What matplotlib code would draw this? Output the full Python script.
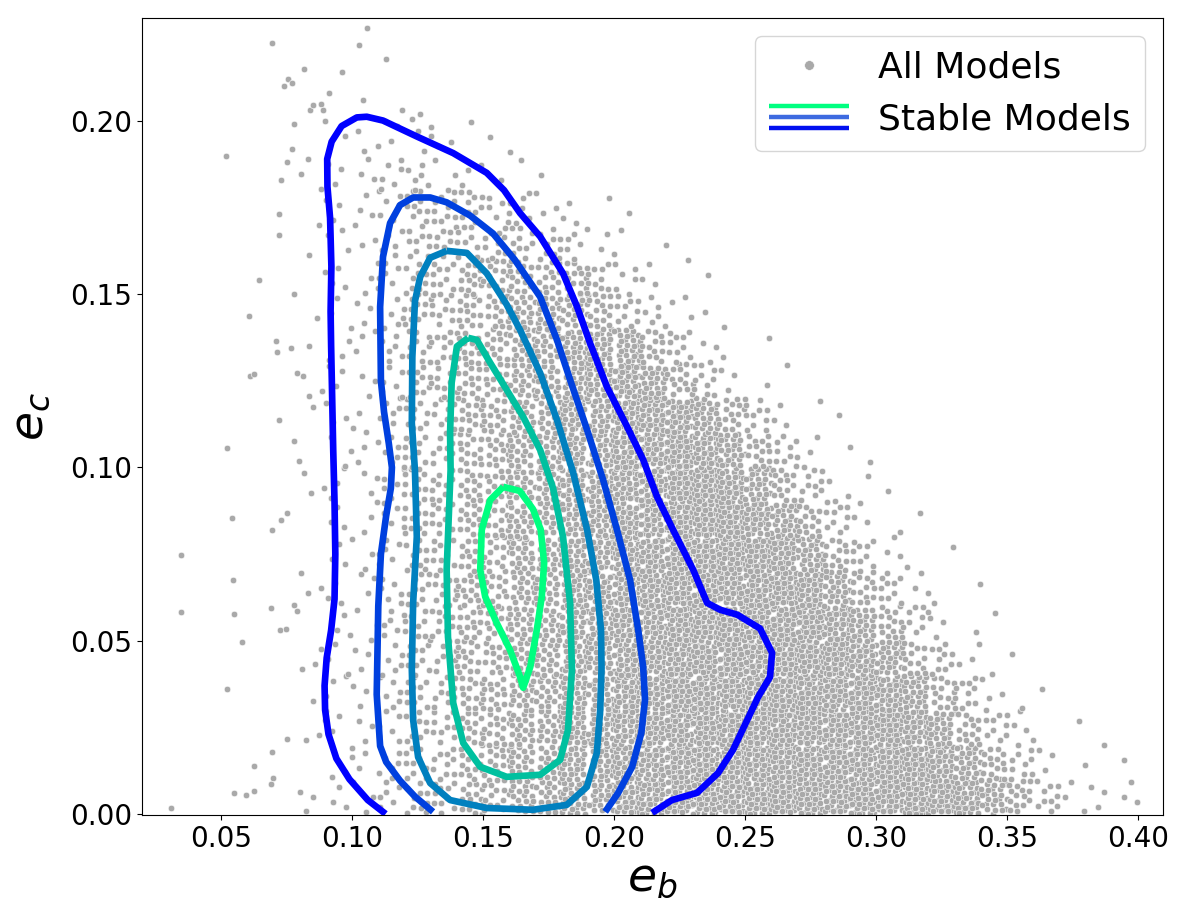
import numpy as np
import matplotlib
matplotlib.use("Agg")
import matplotlib.pyplot as plt
from matplotlib.legend_handler import HandlerBase
from matplotlib.lines import Line2D

# --- all models: density of models per 0.01 x 0.01 cell ---
# one digit per cell (level), columns e_b = 0.08 ... 0.39, rows from e_c = 0.19 (top) down to 0.00,
# trailing empty cells left out
eb_edges = np.round(np.arange(0.08, 0.4001, 0.01), 3)
ec_edges = np.round(np.arange(0.0, 0.2001, 0.01), 3)
density_rows = [
    "112222111",
    "2223322111",
    "1223444332211",
    "12234444443211",
    "1223445555543211",
    "12234455666543211",
    "122344556677754211",
    "2223445566778754211",
    "122344556677888754211",
    "0223445566778898754211",
    "22234455667788998754211",
    "022344556677889998754211",
    "0223445566778899998754211",
    "22234455667788999998754211",
    "022344556677889999998754211",
    "2223445566778899999998754211",
    "12234455667788999999998754211",
    "222344556677889999999998754211",
    "02234455667788999999999987542111",
    "22234455667788999999999998754222",
]
level_counts = [0, 1, 3, 6, 10, 15, 21, 28, 36, 44]

# single models outside the grid (left side and above e_c = 0.20)
sparse_eb = [0.0310, 0.0347, 0.0347, 0.0520, 0.0523, 0.0540, 0.0545, 0.0550, 0.0580, 0.0523,
             0.0550, 0.0595, 0.0626, 0.0607, 0.0610, 0.0626, 0.0645, 0.0710, 0.0714, 0.0767,
             0.0779, 0.0789, 0.0721, 0.0780, 0.0798, 0.0695, 0.0730, 0.0750, 0.0690, 0.0780,
             0.0790, 0.0725, 0.0748, 0.0752, 0.0695, 0.0626, 0.0700, 0.0690, 0.0720, 0.0720,
             0.0730, 0.0750, 0.0770, 0.0780, 0.0695, 0.0740, 0.0755, 0.0770, 0.0817, 0.0840,
             0.0850, 0.0880, 0.0890, 0.0910, 0.0960, 0.1027, 0.1040, 0.1057, 0.1130, 0.1190,
             0.1230, 0.1260]
sparse_ec = [0.0018, 0.0747, 0.0583, 0.1900, 0.1055, 0.0854, 0.0675, 0.0578, 0.0496, 0.0361,
             0.0061, 0.0056, 0.0066, 0.1437, 0.1265, 0.1270, 0.1540, 0.1364, 0.1334, 0.1344,
             0.1500, 0.1273, 0.1138, 0.1075, 0.1018, 0.0820, 0.0849, 0.0867, 0.0593, 0.0603,
             0.0587, 0.0530, 0.0535, 0.0216, 0.0178, 0.0139, 0.0104, 0.0086, 0.1730, 0.1670,
             0.1830, 0.1880, 0.1920, 0.1990, 0.2225, 0.2100, 0.2120, 0.2110, 0.2150, 0.2030,
             0.2045, 0.2050, 0.2030, 0.2080, 0.2140, 0.2220, 0.2060, 0.2268, 0.2180, 0.2030,
             0.2005, 0.2020]

# --- stable models: KDE contour lines, outermost first ---
c1_eb = [0.1128, 0.1060, 0.0990, 0.0940, 0.0910, 0.0897, 0.0895, 0.0903, 0.0920, 0.0933,
         0.0936, 0.0933, 0.0928, 0.0924, 0.0920, 0.0918, 0.0921, 0.0916, 0.0906, 0.0905,
         0.0922, 0.0960, 0.1018, 0.1056, 0.1118, 0.1247, 0.1386, 0.1514, 0.1580, 0.1641,
         0.1718, 0.1805, 0.1859, 0.1908, 0.1973, 0.2050, 0.2111, 0.2164, 0.2225, 0.2302,
         0.2355, 0.2405, 0.2470, 0.2557, 0.2603, 0.2595, 0.2550, 0.2508, 0.2454, 0.2397,
         0.2317, 0.2221, 0.2145]
c1_ec = [0.0000, 0.0040, 0.0100, 0.0160, 0.0230, 0.0300, 0.0370, 0.0450, 0.0530, 0.0620,
         0.0750, 0.0900, 0.1050, 0.1200, 0.1350, 0.1450, 0.1580, 0.1720, 0.1810, 0.1890,
         0.1940, 0.1985, 0.2010, 0.2012, 0.2001, 0.1955, 0.1907, 0.1850, 0.1800, 0.1734,
         0.1666, 0.1560, 0.1463, 0.1359, 0.1232, 0.1117, 0.1022, 0.0915, 0.0820, 0.0704,
         0.0609, 0.0589, 0.0575, 0.0535, 0.0465, 0.0395, 0.0338, 0.0271, 0.0185, 0.0118,
         0.0061, 0.0040, 0.0003]

c2_eb = [0.1309, 0.1240, 0.1183, 0.1130, 0.1107, 0.1094, 0.1100, 0.1110, 0.1130, 0.1148,
         0.1152, 0.1140, 0.1122, 0.1110, 0.1107, 0.1118, 0.1145, 0.1183, 0.1233, 0.1298,
         0.1361, 0.1450, 0.1538, 0.1620, 0.1718, 0.1782, 0.1832, 0.1897, 0.1958, 0.2011,
         0.2061, 0.2092, 0.2111, 0.2118, 0.2104, 0.2069, 0.2015, 0.1966]
c2_ec = [0.0006, 0.0050, 0.0096, 0.0150, 0.0196, 0.0345, 0.0600, 0.0750, 0.0860, 0.0940,
         0.1000, 0.1070, 0.1160, 0.1250, 0.1463, 0.1608, 0.1705, 0.1757, 0.1779, 0.1779,
         0.1765, 0.1727, 0.1675, 0.1600, 0.1492, 0.1368, 0.1253, 0.1108, 0.0964, 0.0820,
         0.0675, 0.0531, 0.0424, 0.0329, 0.0234, 0.0136, 0.0060, 0.0006]

c3_eb = [0.1361, 0.1298, 0.1260, 0.1240, 0.1230, 0.1228, 0.1240, 0.1247, 0.1233, 0.1228,
         0.1233, 0.1252, 0.1298, 0.1374, 0.1514, 0.1690, 0.1819, 0.1896, 0.1934, 0.1947,
         0.1952, 0.1950, 0.1932, 0.1897, 0.1844, 0.1782, 0.1718, 0.1641, 0.1590, 0.1514,
         0.1438, 0.1361]
c3_ec = [0.1625, 0.1605, 0.1550, 0.1480, 0.1319, 0.1128, 0.0990, 0.0800, 0.0609, 0.0416,
         0.0271, 0.0164, 0.0089, 0.0040, 0.0017, 0.0012, 0.0026, 0.0078, 0.0176, 0.0300,
         0.0420, 0.0531, 0.0675, 0.0820, 0.0984, 0.1137, 0.1272, 0.1397, 0.1470, 0.1560,
         0.1619, 0.1625]

c4_eb = [0.1443, 0.1400, 0.1380, 0.1374, 0.1376, 0.1366, 0.1361, 0.1366, 0.1386, 0.1424,
         0.1489, 0.1590, 0.1718, 0.1794, 0.1824, 0.1839, 0.1832, 0.1805, 0.1767, 0.1718,
         0.1653, 0.1590, 0.1527, 0.1476, 0.1443]
c4_ec = [0.1374, 0.1349, 0.1244, 0.1100, 0.0993, 0.0800, 0.0704, 0.0511, 0.0320, 0.0205,
         0.0136, 0.0107, 0.0113, 0.0156, 0.0242, 0.0416, 0.0609, 0.0800, 0.0940, 0.1050,
         0.1146, 0.1224, 0.1302, 0.1368, 0.1374]

c5_eb = [0.1577, 0.1527, 0.1495, 0.1489, 0.1508, 0.1552, 0.1603, 0.1641, 0.1653, 0.1680,
         0.1705, 0.1724, 0.1733, 0.1720, 0.1690, 0.1640, 0.1577]
c5_ec = [0.0944, 0.0906, 0.0820, 0.0704, 0.0627, 0.0551, 0.0473, 0.0396, 0.0364, 0.0424,
         0.0531, 0.0627, 0.0724, 0.0820, 0.0880, 0.0932, 0.0944]

contours = [(c1_eb, c1_ec), (c2_eb, c2_ec), (c3_eb, c3_ec), (c4_eb, c4_ec), (c5_eb, c5_ec)]
contour_colors = plt.cm.winter(np.linspace(0, 1, len(contours)))

xticks = [0.05, 0.10, 0.15, 0.20, 0.25, 0.30, 0.35, 0.40]
yticks = [0.00, 0.05, 0.10, 0.15, 0.20]

# spread each cell's models evenly inside the cell (R2 low-discrepancy sequence)
g = 1.32471795724474602596
a1, a2 = 1.0 / g, 1.0 / g ** 2
cell_w = eb_edges[1] - eb_edges[0]
cell_h = ec_edges[1] - ec_edges[0]
ncols = len(eb_edges) - 1
pts_eb, pts_ec = [], []
n = 0
for i, row in enumerate(density_rows[::-1]):
    for j, ch in enumerate(row.ljust(ncols, "0")):
        k = level_counts[int(ch)]
        idx = np.arange(n, n + k)
        pts_eb.append(eb_edges[j] + cell_w * ((0.5 + a1 * idx) % 1))
        pts_ec.append(ec_edges[i] + cell_h * ((0.5 + a2 * idx) % 1))
        n += k
pts_eb = np.concatenate(pts_eb + [np.array(sparse_eb)])
pts_ec = np.concatenate(pts_ec + [np.array(sparse_ec)])


class StackedLines:
    def __init__(self, colors):
        self.colors = colors


class StackedHandler(HandlerBase):
    def create_artists(self, legend, orig_handle, xdescent, ydescent, width, height,
                       fontsize, trans):
        arts = []
        for k, col in enumerate(orig_handle.colors):
            y = height / 2 - ydescent + (1 - k) * 0.44 * height
            ln = Line2D([-xdescent, width - xdescent], [y, y], color=col, lw=3.2,
                        solid_capstyle='butt')
            ln.set_transform(trans)
            arts.append(ln)
        return arts


fig = plt.figure(figsize=(11.8, 9.22), dpi=100)
ax = fig.add_axes([0.1203, 0.1161, 0.8653, 0.8644])

ax.scatter(pts_eb, pts_ec, s=22, c='darkgray', edgecolors='white', linewidths=0.4, zorder=1)

for (xe, ye), col in zip(contours, contour_colors):
    ax.plot(xe, ye, color=col, lw=4.8, solid_joinstyle='round', solid_capstyle='butt', zorder=3)

ax.set_xlim(0.0198, 0.4095)
ax.set_ylim(-0.0003, 0.2297)
ax.set_xticks(xticks)
ax.set_yticks(yticks)
ax.set_xticklabels([f"{t:.2f}" for t in xticks])
ax.set_yticklabels([f"{t:.2f}" for t in yticks])
ax.tick_params(labelsize=20)
ax.set_xlabel('$e_b$', fontsize=34, labelpad=2)
ax.set_ylabel('$e_c$', fontsize=34, labelpad=13)

all_handle = Line2D([], [], marker='o', ls='', color='darkgray', markersize=7,
                    markeredgecolor='white', markeredgewidth=0.4)
stable_handle = StackedLines(['#00ff80', '#3d6ae0', '#0010f0'])
ax.legend([all_handle, stable_handle], ['All Models', 'Stable Models'],
          handler_map={StackedLines: StackedHandler()}, loc='upper right', fontsize=26,
          handlelength=2.2)

fig.savefig('out.png', dpi=100)
